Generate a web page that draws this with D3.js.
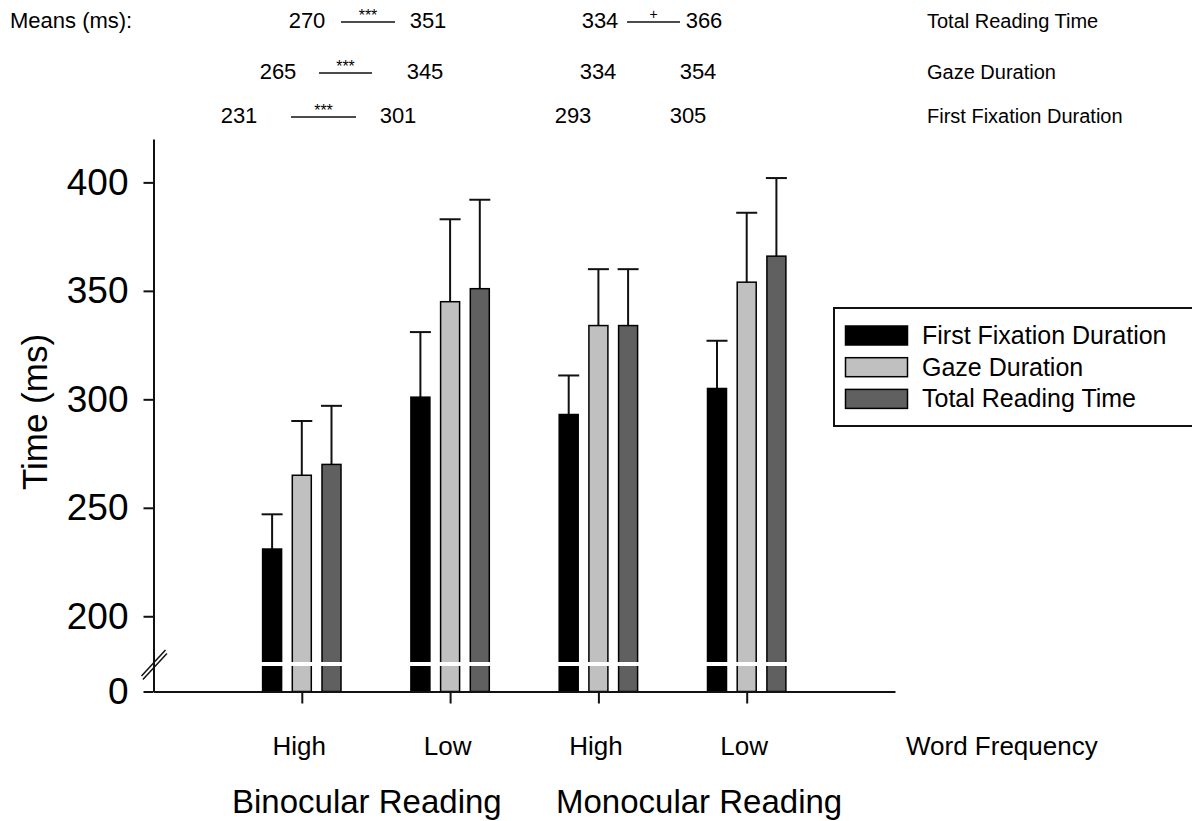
<!DOCTYPE html>
<html>
<head>
<meta charset="utf-8">
<script src="https://cdn.jsdelivr.net/npm/d3@7"></script>
<style>
  body { margin: 0; background: #fff; }
  svg text { font-family: "Liberation Sans", Arial, sans-serif; fill: #000; }
</style>
</head>
<body>
<svg id="chart" width="1192" height="821"></svg>
<script>
// ---- data ----
const frequencies = ["High", "Low", "High", "Low"];
const readingModes = ["Binocular Reading", "Monocular Reading"];
const seriesNames = ["First Fixation Duration", "Gaze Duration", "Total Reading Time"];

const firstFixation = [231, 301, 293, 305];
const gazeDuration = [265, 345, 334, 354];
const totalReading = [270, 351, 334, 366];

// top of each error bar
const firstFixationUpper = [247, 331, 311, 327];
const gazeDurationUpper = [290, 383, 360, 386];
const totalReadingUpper = [297, 392, 360, 402];

const yTicks = [0, 200, 250, 300, 350, 400];

// significance of the high vs low contrast, per measure (binocular, monocular)
const binocularSig = ["***", "***", "***"];
const monocularSig = ["", "", "+"];

const seriesColors = ["#000000", "#c0c0c0", "#606060"];

const svg = d3.select("#chart");

const axisX = 153.5;
const baseY = 691.5;
const breakValue = 178;

// broken y scale: 0 .. break squeezed in the bottom strip
const yScale = d3.scaleLinear()
  .domain([0, breakValue, 420])
  .range([baseY, 664, 139]);

const xScale = d3.scaleLinear()
  .domain([0, 5])
  .range([axisX, 895]);

const seriesValues = [firstFixation, gazeDuration, totalReading];
const seriesUpper = [firstFixationUpper, gazeDurationUpper, totalReadingUpper];

const barWidth = 19;
const barStep = 29.7;

const barData = [];
seriesValues.forEach((vals, s) => {
  vals.forEach((v, i) => {
    barData.push({
      series: s,
      group: i,
      value: v,
      upper: seriesUpper[s][i],
      cx: xScale(i + 1) + (s - 1) * barStep
    });
  });
});

// ---- bars ----
const barsG = svg.append("g");

// error bars first so the bars sit over the stems
barsG.selectAll(".errStem")
  .data(barData)
  .enter()
  .append("line")
  .attr("x1", d => d.cx)
  .attr("x2", d => d.cx)
  .attr("y1", d => yScale(d.value))
  .attr("y2", d => yScale(d.upper))
  .attr("stroke", "#111")
  .attr("stroke-width", 2);

barsG.selectAll(".errCap")
  .data(barData)
  .enter()
  .append("line")
  .attr("x1", d => d.cx - 10.5)
  .attr("x2", d => d.cx + 10.5)
  .attr("y1", d => yScale(d.upper))
  .attr("y2", d => yScale(d.upper))
  .attr("stroke", "#111")
  .attr("stroke-width", 2);

barsG.selectAll(".bar")
  .data(barData)
  .enter()
  .append("rect")
  .attr("x", d => d.cx - barWidth / 2)
  .attr("y", d => yScale(d.value))
  .attr("width", barWidth)
  .attr("height", d => yScale(0) - yScale(d.value))
  .attr("fill", d => seriesColors[d.series])
  .attr("stroke", "#000")
  .attr("stroke-width", 1.5);

// white break across every bar
barsG.selectAll(".barBreak")
  .data(barData)
  .enter()
  .append("line")
  .attr("x1", d => d.cx - barWidth / 2 - 1)
  .attr("x2", d => d.cx + barWidth / 2 + 1)
  .attr("y1", yScale(breakValue))
  .attr("y2", yScale(breakValue))
  .attr("stroke", "#fff")
  .attr("stroke-width", 4)
  .attr("stroke-linecap", "round");

// ---- axes ----
const yAxis = d3.axisLeft(yScale)
  .tickValues(yTicks)
  .tickFormat(d3.format("d"))
  .tickSize(10)
  .tickSizeOuter(0)
  .tickPadding(15);

const yAxisGroup = svg.append("g")
  .attr("transform", `translate(${axisX},0)`)
  .call(yAxis);

yAxisGroup.select(".domain").attr("stroke", "#111").attr("stroke-width", 2);
yAxisGroup.selectAll("line").attr("stroke", "#111").attr("stroke-width", 2);
yAxisGroup.selectAll("text")
  .attr("font-size", 37)
  .attr("font-family", "Liberation Sans, Arial, sans-serif")
  .attr("fill", "#000");

const xAxis = d3.axisBottom(xScale)
  .tickValues([1, 2, 3, 4])
  .tickFormat(d => frequencies[d - 1])
  .tickSize(12)
  .tickSizeOuter(0)
  .tickPadding(33);

const xAxisGroup = svg.append("g")
  .attr("transform", `translate(0,${baseY})`)
  .call(xAxis);

xAxisGroup.select(".domain").attr("stroke", "#111").attr("stroke-width", 2);
xAxisGroup.selectAll("line").attr("stroke", "#111").attr("stroke-width", 2);
xAxisGroup.selectAll("text")
  .attr("font-size", 26)
  .attr("dx", -3)
  .attr("font-family", "Liberation Sans, Arial, sans-serif")
  .attr("fill", "#000");

// axis break marks "//"
const yb = yScale(breakValue);
[0, 3.5].forEach(off => {
  svg.append("line")
    .attr("x1", axisX - 12 + off * 0.4)
    .attr("y1", yb + 12 + off)
    .attr("x2", axisX + 12 + off * 0.4)
    .attr("y2", yb - 14 + off)
    .attr("stroke", "#111")
    .attr("stroke-width", 1.5);
});

// ---- axis titles ----
svg.append("text")
  .attr("transform", `translate(47,412) rotate(-90)`)
  .attr("text-anchor", "middle")
  .attr("font-size", 35)
  .text("Time (ms)");

svg.append("text")
  .attr("x", 906)
  .attr("y", 755)
  .attr("font-size", 26)
  .text("Word Frequency");

svg.selectAll(".modeLabel")
  .data(readingModes)
  .enter()
  .append("text")
  .attr("x", (d, i) => (i === 0 ? 232 : 556))
  .attr("y", 813)
  .attr("font-size", 33)
  .text(d => d);

// ---- legend ----
const legend = svg.append("g").attr("transform", "translate(834,308)");

legend.append("rect")
  .attr("x", 0)
  .attr("y", 0)
  .attr("width", 372)
  .attr("height", 118)
  .attr("fill", "#fff")
  .attr("stroke", "#111")
  .attr("stroke-width", 2);

seriesNames.forEach((name, i) => {
  legend.append("rect")
    .attr("x", 11.5)
    .attr("y", 18 + i * 31.7)
    .attr("width", 62)
    .attr("height", 19)
    .attr("fill", seriesColors[i])
    .attr("stroke", "#000")
    .attr("stroke-width", 1.5);
  legend.append("text")
    .attr("x", 88)
    .attr("y", 36 + i * 31.7)
    .attr("font-size", 25)
    .text(name);
});

// ---- means block at the top ----
const topFont = 22;
// rows from top: total reading, gaze, first fixation
const rowOrder = [2, 1, 0];
const rowBaseline = [28, 79, 123];

svg.append("text")
  .attr("x", 10)
  .attr("y", rowBaseline[0])
  .attr("font-size", topFont)
  .text("Means (ms):");

// horizontal layout of the two comparisons, per row
const binoLayout = [
  { hi: 307, lineA: 341, lineB: 395, lo: 428 },
  { hi: 278, lineA: 319, lineB: 372, lo: 425 },
  { hi: 239, lineA: 291, lineB: 356, lo: 398 }
];
const monoLayout = [
  { hi: 600, lineA: 627, lineB: 680, lo: 704 },
  { hi: 598, lineA: 627, lineB: 680, lo: 698 },
  { hi: 573, lineA: 600, lineB: 650, lo: 688 }
];

rowOrder.forEach((s, r) => {
  const yb = rowBaseline[r];
  [[binoLayout[r], binocularSig[s], 0], [monoLayout[r], monocularSig[s], 2]].forEach(([L, sig, g]) => {
    svg.append("text")
      .attr("x", L.hi)
      .attr("y", yb)
      .attr("text-anchor", "middle")
      .attr("font-size", topFont)
      .text(seriesValues[s][g]);
    svg.append("text")
      .attr("x", L.lo)
      .attr("y", yb)
      .attr("text-anchor", "middle")
      .attr("font-size", topFont)
      .text(seriesValues[s][g + 1]);
    if (sig) {
      const lineY = yb - 6;
      svg.append("line")
        .attr("x1", L.lineA)
        .attr("x2", L.lineB)
        .attr("y1", lineY)
        .attr("y2", lineY)
        .attr("stroke", "#111")
        .attr("stroke-width", 1.5);
      svg.append("text")
        .attr("x", (L.lineA + L.lineB) / 2)
        .attr("y", sig === "+" ? lineY - 3 : lineY - 1)
        .attr("text-anchor", "middle")
        .attr("font-size", sig === "+" ? 14 : 16)
        .text(sig);
    }
  });
  svg.append("text")
    .attr("x", 927)
    .attr("y", yb)
    .attr("font-size", 20)
    .text(seriesNames[s]);
});
</script>
</body>
</html>
